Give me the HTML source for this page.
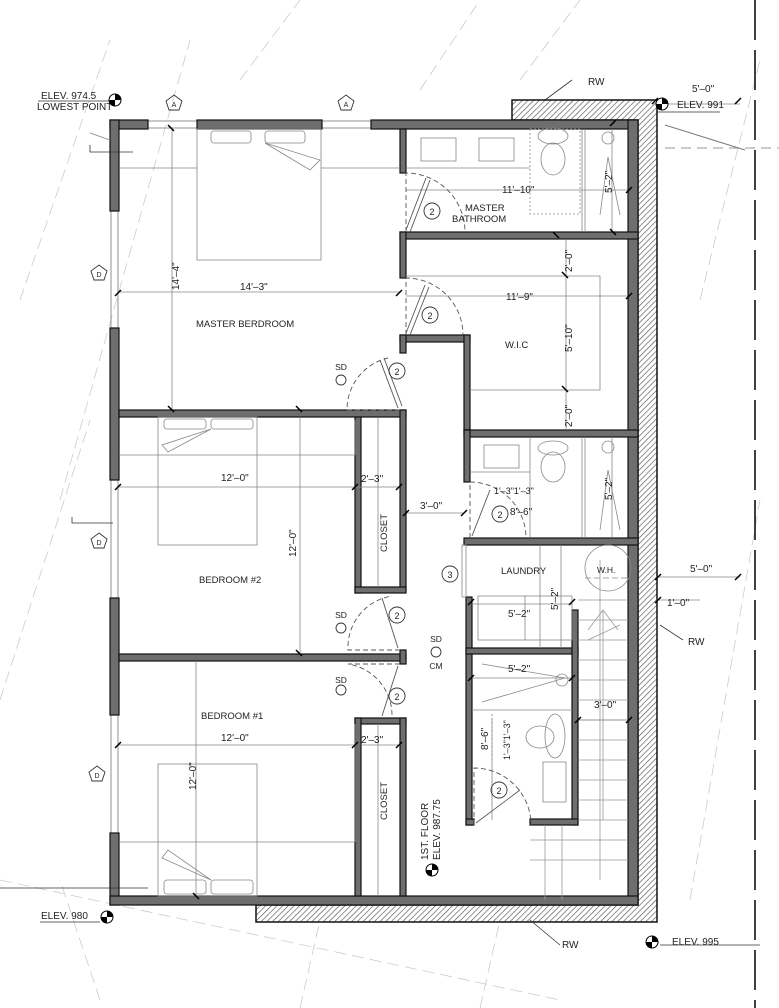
<!DOCTYPE html>
<html><head><meta charset="utf-8"><style>
html,body{margin:0;padding:0;background:#fff;}
svg{display:block;}
text{font-family:"Liberation Sans",sans-serif;fill:#222;}
</style></head><body>
<svg width="779" height="1008" viewBox="0 0 779 1008" xmlns="http://www.w3.org/2000/svg">
<defs>
<pattern id="h" width="4" height="4" patternUnits="userSpaceOnUse" patternTransform="rotate(45)">
<rect width="4" height="4" fill="#fff"/><line x1="0" y1="0" x2="0" y2="4" stroke="#555" stroke-width="1.3"/>
</pattern>
</defs>
<g stroke="#ccc" stroke-width="0.8" stroke-dasharray="12 6" fill="none">
<path d="M20 300 L110 40"/><path d="M60 500 L190 40"/><path d="M0 700 L90 420"/>
<path d="M240 80 L300 0"/><path d="M420 90 L480 0"/><path d="M520 80 L580 0"/>
<path d="M700 300 L760 60"/><path d="M690 900 L760 500"/><path d="M100 1000 L60 880"/>
<path d="M0 880 L560 1000"/><path d="M300 1008 L320 920"/><path d="M480 1008 L500 920"/>
</g>
<path d="M755 0 V1008" stroke="#111" stroke-width="1.6" stroke-dasharray="40 10" fill="none"/>
<path d="M665 148 H779" stroke="#999" stroke-dasharray="10 6" fill="none"/>
<path d="M665 125 L745 150" stroke="#777" fill="none"/>

<path d="M512 100 H657 V922 H256 V905 H638 V120 H512 Z" fill="url(#h)" stroke="#111" stroke-width="1.5"/>

<g stroke="#777" stroke-width="0.8" fill="none">
<rect x="148" y="121" width="49" height="7"/><rect x="322" y="121" width="49" height="7"/>
<rect x="111" y="211" width="7" height="117"/><rect x="111" y="480" width="7" height="118"/><rect x="111" y="715" width="7" height="118"/>
</g>

<g fill="#6e6e6e" stroke="#111" stroke-width="1.2">
<rect x="110" y="120" width="38" height="9"/>
<rect x="197" y="120" width="125" height="9"/>
<rect x="371" y="120" width="267" height="9"/>
<rect x="628" y="120" width="10" height="785"/>
<rect x="110" y="120" width="9" height="91"/>
<rect x="110" y="328" width="9" height="152"/>
<rect x="110" y="598" width="9" height="117"/>
<rect x="110" y="833" width="9" height="72"/>
<rect x="110" y="896" width="528" height="9"/>
<rect x="400" y="129" width="6" height="44"/>
<rect x="400" y="232" width="238" height="7"/>
<rect x="400" y="232" width="6" height="46"/>
<rect x="400" y="335" width="70" height="7"/>
<rect x="400" y="335" width="6" height="18"/>
<rect x="464" y="335" width="6" height="95"/>
<rect x="464" y="430" width="174" height="7"/>
<rect x="464" y="430" width="6" height="52"/>
<rect x="464" y="538" width="174" height="7"/>
<rect x="119" y="410" width="287" height="7"/>
<rect x="400" y="410" width="6" height="180"/>
<rect x="355" y="417" width="6" height="176"/>
<rect x="355" y="587" width="51" height="6"/>
<rect x="119" y="654" width="287" height="7"/>
<rect x="400" y="650" width="6" height="14"/>
<rect x="355" y="718" width="51" height="6"/>
<rect x="355" y="718" width="6" height="178"/>
<rect x="400" y="718" width="6" height="178"/>
<rect x="466" y="597" width="6" height="228"/>
<rect x="466" y="648" width="112" height="6"/>
<rect x="572" y="610" width="6" height="215"/>
<rect x="530" y="819" width="48" height="6"/>
<rect x="466" y="819" width="8" height="6"/>
</g>

<g stroke="#888" stroke-width="0.8" fill="none">
<rect x="197" y="129" width="124" height="131"/>
<rect x="211" y="131" width="40" height="12" rx="3"/><rect x="265" y="131" width="40" height="12" rx="3"/>
<path d="M265 143 L320 160 L310 170 Z"/>
<path d="M119 168 H197 M321 168 H400"/>
<rect x="158" y="417" width="99" height="128"/>
<rect x="164" y="419" width="42" height="10" rx="3"/><rect x="211" y="419" width="42" height="10" rx="3"/>
<path d="M211 429 L162 445 L168 452 Z"/>
<path d="M119 455 H355"/>
<rect x="158" y="764" width="99" height="132"/>
<rect x="164" y="880" width="42" height="14" rx="3"/><rect x="211" y="880" width="42" height="14" rx="3"/>
<path d="M211 880 L162 858 L168 850 Z"/>
<path d="M119 842 H355"/>
<path d="M378 417 V587 M378 724 V896"/>
<path d="M355 455 V420 M355 842 V724"/>
<rect x="421" y="138" width="35" height="23"/><rect x="479" y="138" width="35" height="23"/>
<path d="M406 168 H530"/>
<rect x="530" y="129" width="50" height="85" stroke-dasharray="2 2"/>
<path d="M582 129 V232 M585 129 V232"/>
<ellipse cx="553" cy="136" rx="15" ry="8"/>
<ellipse cx="553" cy="159" rx="12" ry="16"/>
<circle cx="608" cy="138" r="6"/><path d="M600 215 L608 157 L620 215"/>
<path d="M406 276 H600 V390 H470"/>
<rect x="484" y="445" width="35" height="23"/>
<ellipse cx="553" cy="448" rx="15" ry="7"/><ellipse cx="553" cy="467" rx="12" ry="15"/>
<path d="M470 472 H530 M530 437 V538 M582 437 V538 M585 437 V538"/>
<circle cx="608" cy="447" r="6"/><path d="M600 530 L608 470 L620 530"/>
<rect x="478" y="596" width="94" height="44"/><path d="M525 596 V640"/>
<path d="M540 545 V648"/>
<circle cx="608" cy="568" r="23"/><path d="M585 578 H631" stroke-dasharray="6 3"/>
<rect x="462" y="545" width="4" height="52"/>
<path d="M482 664 L565 678 L482 702"/><circle cx="562" cy="680" r="6"/>
<path d="M472 710 H572"/>
<ellipse cx="555" cy="736" rx="10" ry="22"/><ellipse cx="540" cy="737" rx="14" ry="11"/>
<rect x="543" y="762" width="23" height="40"/>
<path d="M492 714 V760" stroke-dasharray="2 2"/>
<g stroke="#999">
<path d="M578 600 H628 M578 620 H628 M578 640 H628 M578 660 H628 M578 680 H628 M578 700 H628 M578 720 H628 M578 740 H628 M578 760 H628 M578 780 H628 M578 800 H628 M578 820 H628 M530 840 H628 M530 860 H628"/>
<path d="M600 560 V880 M545 825 V900 M562 825 V900"/>
<path d="M588 640 L620 625 M588 630 L603 610 L618 630 M603 610 V820"/>
</g>
<path d="M119 292 H400 M172 129 V410 M119 487 H355 M355 487 H400 M300 417 V654 M406 513 H464 M119 745 H355 M361 745 H400 M196 661 V896"/>
<path d="M406 190 H628 M406 296 H628 M566 239 V430 M612 129 V232 M612 437 V538 M561 545 V648 M472 604 H572 M472 678 H572 M578 720 H628 M492 718 V820"/>
<path d="M656 577 H740 M656 600 H700 M656 104 H740 M90 133 L110 140"/>
</g>
<g stroke="#555" stroke-width="0.9" fill="none">
<path d="M406 232 L406 173 A59 59 0 0 1 465 232" stroke-dasharray="5 3"/>
<path d="M406 230 L426 178 M410 232 L430 180"/>
<path d="M406 335 L406 278 A57 57 0 0 1 463 335" stroke-dasharray="5 3"/>
<path d="M406 333 L425 285 M410 335 L429 287"/>
<path d="M400 410 L347 410 A53 53 0 0 1 388 358" stroke-dasharray="5 3"/>
<path d="M398 408 L380 360 M402 406 L384 358"/>
<path d="M470 538 L470 482 A56 56 0 0 1 526 538" stroke-dasharray="5 3"/>
<path d="M472 536 L490 490"/>
<path d="M400 650 L348 650 A52 52 0 0 1 392 596" stroke-dasharray="5 3"/>
<path d="M398 648 L382 598"/>
<path d="M400 664 L348 664 A52 52 0 0 1 392 716" stroke-dasharray="5 3"/>
<path d="M398 666 L382 716"/>
<path d="M474 825 L474 768 A57 57 0 0 1 531 825" stroke-dasharray="5 3"/>
<path d="M476 823 L520 790"/>
</g>
<g stroke="#000" stroke-width="1.5">
<path d="M168 125 l6 6 M115 296 l6 -6 M396 296 l6 -6 M168 406 l6 6 M296 406 l6 6 M115 490 l6 -6 M352 490 l6 -6 M396 490 l6 -6 M296 650 l6 6 M115 748 l6 -6 M352 748 l6 -6 M396 748 l6 -6 M193 893 l6 6 M403 516 l6 -6 M461 516 l6 -6 M553 232 l6 6 M562 272 l6 6 M562 386 l6 6 M610 126 l6 -6 M610 229 l6 6 M626 193 l6 -6 M626 299 l6 -6 M468 605 l6 -6 M569 605 l6 -6 M468 681 l6 -6 M569 681 l6 -6 M575 723 l6 -6 M626 723 l6 -6 M655 580 l6 -6 M655 603 l6 -6 M735 580 l6 -6 M652 104 l6 -6 M735 104 l6 -6"/>
</g>

<g font-size="9.5">
<text x="196" y="327">MASTER  BERDROOM</text>
<text x="199" y="583">BEDROOM  #2</text>
<text x="201" y="719">BEDROOM  #1</text>
<text x="465" y="211">MASTER</text>
<text x="452" y="222">BATHROOM</text>
<text x="505" y="348">W.I.C</text>
<text x="501" y="574">LAUNDRY</text>
<text x="597" y="573" fill="#999" font-size="8.5">W.H.</text>
</g>
<g font-size="10">
<text x="240" y="290">14'–3"</text>
<text x="221" y="481">12'–0"</text>
<text x="221" y="741">12'–0"</text>
<text x="361" y="482">2'–3"</text>
<text x="361" y="743">2'–3"</text>
<text x="420" y="509">3'–0"</text>
<text x="502" y="193">11'–10"</text>
<text x="506" y="300">11'–9"</text>
<text x="510" y="515">8'–6"</text>
<text x="494" y="494" font-size="9">1'–3"1'–3"</text>
<text x="508" y="617">5'–2"</text>
<text x="508" y="672">5'–2"</text>
<text x="594" y="708">3'–0"</text>
<text x="690" y="572">5'–0"</text>
<text x="667" y="606">1'–0"</text>
<text x="692" y="92">5'–0"</text>
<text x="677" y="108">ELEV. 991</text>
<text x="588" y="85">RW</text>
<text x="688" y="645">RW</text>
<text x="562" y="948">RW</text>
<text x="672" y="945">ELEV. 995</text>
<text x="41" y="919">ELEV. 980</text>
<text x="41" y="99">ELEV. 974.5</text>
<text x="37" y="110">LOWEST POINT</text>
</g>
<g font-size="10">
<text transform="translate(179 290) rotate(-90)">14'–4"</text>
<text transform="translate(296 557) rotate(-90)">12'–0"</text>
<text transform="translate(196 790) rotate(-90)">12'–0"</text>
<text transform="translate(572 272) rotate(-90)">2'–0"</text>
<text transform="translate(572 352) rotate(-90)">5'–10"</text>
<text transform="translate(572 427) rotate(-90)">2'–0"</text>
<text transform="translate(612 193) rotate(-90)">5'–2"</text>
<text transform="translate(612 500) rotate(-90)">5'–2"</text>
<text transform="translate(558 610) rotate(-90)">5'–2"</text>
<text transform="translate(488 750) rotate(-90)">8'–6"</text>
<text transform="translate(510 760) rotate(-90)" font-size="9">1'–3"1'–3"</text>
<text transform="translate(387 552) rotate(-90)" font-size="9.5">CLOSET</text>
<text transform="translate(387 820) rotate(-90)" font-size="9.5">CLOSET</text>
<text transform="translate(428 860) rotate(-90)" font-size="10">1ST. FLOOR</text>
<text transform="translate(440 860) rotate(-90)" font-size="10">ELEV. 987.75</text>
</g>
<g fill="none" stroke="#333" stroke-width="0.9">
<circle cx="432" cy="211" r="8"/><circle cx="430" cy="315" r="8"/><circle cx="397" cy="371" r="8"/>
<circle cx="500" cy="514" r="8"/><circle cx="397" cy="615" r="8"/><circle cx="397" cy="696" r="8"/>
<circle cx="499" cy="790" r="8"/><circle cx="450" cy="574" r="8"/>
<path d="M174 95 l8 6 l-3 9 h-10 l-3 -9 Z"/><path d="M346 95 l8 6 l-3 9 h-10 l-3 -9 Z"/>
<path d="M99 265 l8 6 l-3 9 h-10 l-3 -9 Z"/><path d="M99 533 l8 6 l-3 9 h-10 l-3 -9 Z"/><path d="M97 766 l8 6 l-3 9 h-10 l-3 -9 Z"/>
<circle cx="341" cy="380" r="5"/><circle cx="341" cy="628" r="5"/><circle cx="341" cy="690" r="5"/><circle cx="436" cy="652" r="5"/>
</g>
<g font-size="9" text-anchor="middle">
<text x="432" y="215">2</text><text x="430" y="319">2</text><text x="397" y="375">2</text><text x="500" y="518">2</text>
<text x="397" y="619">2</text><text x="397" y="700">2</text><text x="499" y="794">2</text><text x="450" y="578">3</text>
<text x="174" y="107" font-size="7">A</text><text x="346" y="107" font-size="7">A</text>
<text x="99" y="277" font-size="7">D</text><text x="99" y="545" font-size="7">D</text><text x="97" y="778" font-size="7">D</text>
<text x="341" y="370" font-size="8.5">SD</text><text x="341" y="618" font-size="8.5">SD</text><text x="341" y="683" font-size="8.5">SD</text>
<text x="436" y="642" font-size="8.5">SD</text><text x="436" y="669" font-size="8.5">CM</text>
</g>
<g>
<circle cx="115" cy="100" r="6" fill="#fff" stroke="#000"/><path d="M115 94 A6 6 0 0 1 121 100 H115Z M115 106 A6 6 0 0 1 109 100 H115Z" fill="#000"/>
<circle cx="662" cy="104" r="6" fill="#fff" stroke="#000"/><path d="M662 98 A6 6 0 0 1 668 104 H662Z M662 110 A6 6 0 0 1 656 104 H662Z" fill="#000"/>
<circle cx="107" cy="917" r="6" fill="#fff" stroke="#000"/><path d="M107 911 A6 6 0 0 1 113 917 H107Z M107 923 A6 6 0 0 1 101 917 H107Z" fill="#000"/>
<circle cx="652" cy="942" r="6" fill="#fff" stroke="#000"/><path d="M652 936 A6 6 0 0 1 658 942 H652Z M652 948 A6 6 0 0 1 646 942 H652Z" fill="#000"/>
<circle cx="432" cy="870" r="6" fill="#fff" stroke="#000"/><path d="M432 864 A6 6 0 0 1 438 870 H432Z M432 876 A6 6 0 0 1 426 870 H432Z" fill="#000"/>
</g>
<g stroke="#333" stroke-width="0.8" fill="none">
<path d="M38 101 H110 M40 922 H100 M656 112 H720 M660 945 H760 M572 80 L545 100 M683 640 L660 625 M560 945 L530 920"/>
<path d="M90 145 V152 H133 M72 517 V523 H113 M0 888 H148"/>
</g>
</svg>
</body></html>
